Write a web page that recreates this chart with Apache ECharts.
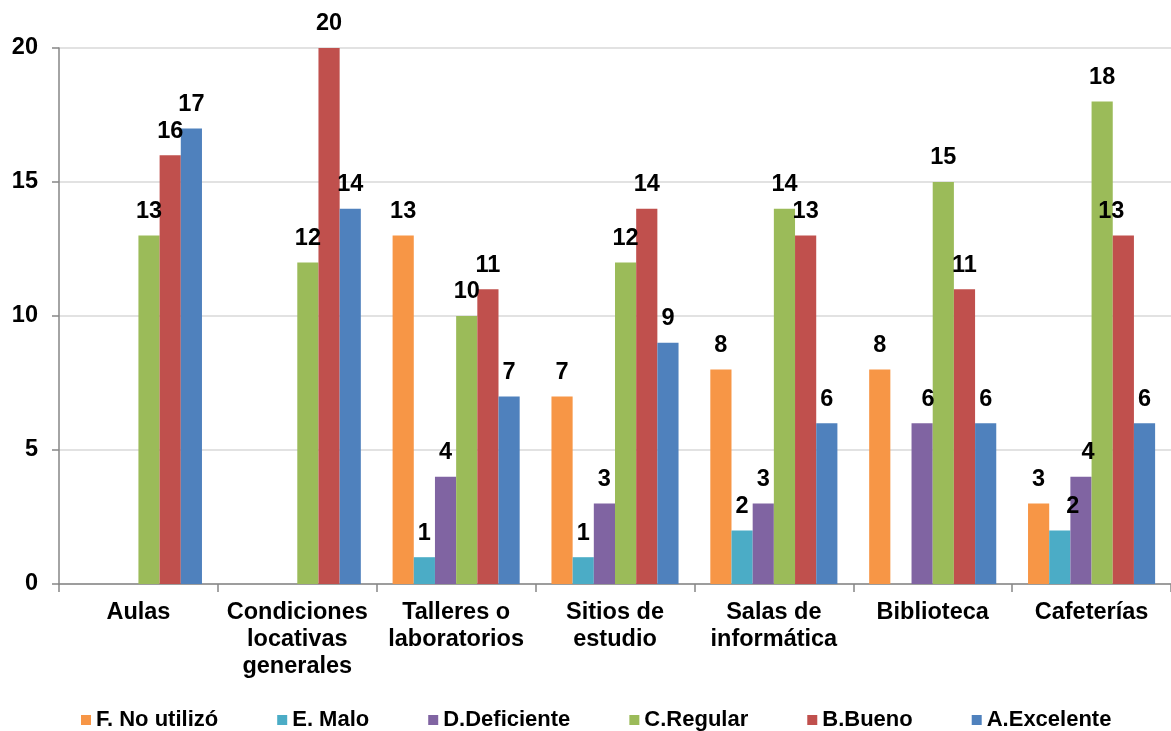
<!DOCTYPE html>
<html>
<head>
<meta charset="utf-8">
<script src="https://cdn.jsdelivr.net/npm/echarts@6/dist/echarts.min.js"></script>
<style>
    html, body { margin: 0; padding: 0; background: #fff; }
    #main { width: 1171px; height: 731px; }
</style>
</head>
<body>
<div id="main"></div>
<script>
// categorias del eje x
let categorias = ['Aulas', 'Condiciones\nlocativas\ngenerales', 'Talleres o\nlaboratorios', 'Sitios de\nestudio', 'Salas de\ninformática', 'Biblioteca', 'Cafeterías'];
let nombres = ['F. No utilizó', 'E. Malo', 'D.Deficiente', 'C.Regular', 'B.Bueno', 'A.Excelente'];
let colores = ['#F79646', '#4BACC6', '#8064A2', '#9BBB59', '#C0504D', '#4F81BD'];

// valores por calificacion ('-' = sin dato)
let noUtilizo  = ['-', '-', 13, 7, 8, 8, 3];
let malo       = ['-', '-', 1, 1, 2, '-', 2];
let deficiente = ['-', '-', 4, 3, 3, 6, 4];
let regular    = [13, 12, 10, 12, 14, 15, 18];
let bueno      = [16, 20, 11, 14, 13, 11, 13];
let excelente  = [17, 14, 7, 9, 6, 6, 6];

let yTicks = [0, 5, 10, 15, 20];

// pequeños desplazamientos de etiquetas como en el original [serie, categoria, dx]
let ajustes = [[2, 5, 6], [1, 6, 13], [2, 6, 7], [4, 6, -12]];

let fuente = 'Liberation Sans, Arial, sans-serif';

function armarSerie(i, valores) {
    let data = valores.map(function (v, j) {
        let ajuste = ajustes.find(function (a) { return a[0] === i && a[1] === j; });
        if (ajuste && v !== '-') {
            return { value: v, label: { offset: [ajuste[2], 0] } };
        }
        return v;
    });
    return {
        name: nombres[i],
        type: 'bar',
        data: data,
        barGap: 0,
        barCategoryGap: '20%',
        itemStyle: { color: colores[i] },
        label: {
            show: true,
            position: 'top',
            distance: 12,
            color: '#000',
            fontFamily: fuente,
            fontWeight: 'bold',
            fontSize: 23.5
        }
    };
}

let myChart = echarts.init(document.getElementById('main'));

let series = [noUtilizo, malo, deficiente, regular, bueno, excelente].map(function (v, i) {
    return armarSerie(i, v);
});

let option = {
    animation: false,
    color: colores,
    textStyle: { fontFamily: fuente },
    grid: {
        left: 59,
        top: 48,
        width: 1120,
        height: 536
    },
    legend: {
        data: nombres,
        left: 81,
        top: 709,
        padding: 0,
        itemWidth: 10,
        itemHeight: 10,
        itemGap: 59,
        icon: 'rect',
        textStyle: {
            color: '#000',
            fontFamily: fuente,
            fontWeight: 'bold',
            fontSize: 22
        }
    },
    xAxis: {
        type: 'category',
        data: categorias,
        axisLine: { lineStyle: { color: '#868686', width: 1.5 } },
        axisTick: { show: true, length: 8, lineStyle: { color: '#868686', width: 1.5 } },
        axisLabel: {
            margin: 15,
            color: '#000',
            fontFamily: fuente,
            fontWeight: 'bold',
            fontSize: 23.5,
            lineHeight: 27,
            interval: 0
        }
    },
    yAxis: {
        type: 'value',
        min: yTicks[0],
        max: yTicks[yTicks.length - 1],
        interval: 5,
        axisLine: { show: true, lineStyle: { color: '#868686', width: 1.5 } },
        axisTick: { show: true, length: 7, lineStyle: { color: '#868686', width: 1.5 } },
        axisLabel: {
            margin: 21,
            color: '#000',
            fontFamily: fuente,
            fontWeight: 'bold',
            fontSize: 23.5
        },
        splitLine: { lineStyle: { color: '#D9D9D9', width: 1.5 } }
    },
    series: series
};

myChart.setOption(option);
</script>
</body>
</html>
